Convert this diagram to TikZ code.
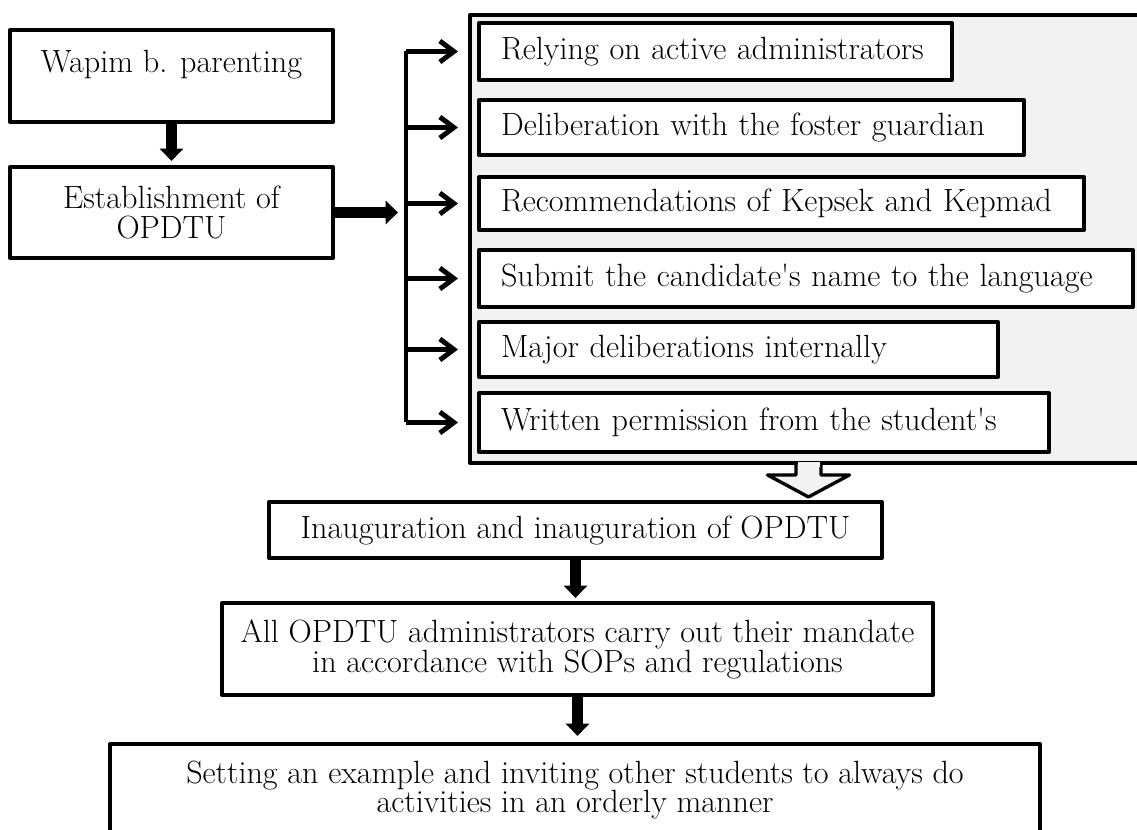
\documentclass[tikz,border=0pt]{standalone}
\usepackage{amsmath}
\usepackage{tikz}
\usetikzlibrary{arrows.meta,calc}

\begin{document}
\begin{tikzpicture}[x=0.02cm,y=-0.02cm,line join=round,
                    font=\fontsize{18.3}{17}\selectfont]
  \tikzstyle{box}=[draw,line width=2.3pt,fill=white,align=center,inner sep=0pt]
  \tikzstyle{item}=[box,anchor=west,align=left,inner xsep=0.44cm]
  \tikzstyle{fat}=[line width=6.8pt,-{Triangle[width=13pt,length=7pt]}]
  \tikzstyle{tick}=[line width=2.8pt,-{Straight Barb[length=8pt,width=12pt]}]
\useasboundingbox (0,0) rectangle (1137,830);
\node [box,minimum width=6.46cm,minimum height=1.84cm] (0) at (171.5,76) {Wapim b. parenting\\ ~};
\node [box,minimum width=6.46cm,minimum height=1.82cm] (1) at (171.5,212.5) {Establishment of\\ OPDTU};

% grey panel with the six steps
\node [draw,line width=2.3pt,fill=gray!10,minimum width=13.54cm,minimum height=8.96cm] (p) at (808.5,239) {};
\node [item,minimum height=1.14cm,text width=8.58cm] (2) at (477,51.5) {Relying on active administrators};
\node [item,minimum height=1.1cm,text width=10.02cm] (3) at (477,127.5) {Deliberation with the foster guardian};
\node [item,minimum height=1.06cm,text width=11.22cm] (4) at (477,203.5) {Recommendations of Kepsek and Kepmad};
\node [item,minimum height=1.14cm,text width=12.2cm] (5) at (477,278.5) {Submit the candidate\textquotesingle s name to the language};
\node [item,minimum height=1.1cm,text width=9.5cm] (6) at (477,349.5) {Major deliberations internally};
\node [item,minimum height=1.18cm,text width=10.52cm] (7) at (477,422.5) {Written permission from the student\textquotesingle s};

\node [box,minimum width=12.26cm,minimum height=1.12cm] (8) at (575.5,530) {Inauguration and inauguration of OPDTU};
\node [box,minimum width=14.22cm,minimum height=1.84cm] (9) at (577.5,649) {All OPDTU administrators carry out their mandate\\ in accordance with SOPs and regulations};
\node [box,minimum width=18.6cm,minimum height=1.84cm] (10) at (575,790) {Setting an example and inviting other students to always do\\ activities in an orderly manner};

\coordinate (b) at (406,0);
\draw [line width=2.8pt] (2.west -| b) -- (7.west -| b);
\foreach \i in {2,...,7}
  \draw [tick,shorten >=0.38cm] (\i.west -| b) -- (\i.west);

\draw [fat,shorten >=0.16cm] (1.east) -- (1.east -| b);
\draw [fat,shorten >=0.08cm] (0) -- (1);
\draw [fat,shorten >=0.06cm] (8.south) -- (8.south |- 9.north);
\draw [fat,shorten >=0.12cm] (9.south) -- (9.south |- 10.north);

% open arrow out of the panel
\filldraw [fill=gray!10,line width=1.9pt] ($(p.south)+(-12.5,0)$) -- ++(0,10) -- ++(-28.5,0)
  -- ($(p.south)+(0,32)$) -- ($(p.south)+(41,10)$) -- ++(-28.5,0) -- ++(0,-10);
\fill [gray!10] ($(p.south)+(-11,-2.5)$) rectangle ($(p.south)+(11,2.5)$);
\end{tikzpicture}
\end{document}
